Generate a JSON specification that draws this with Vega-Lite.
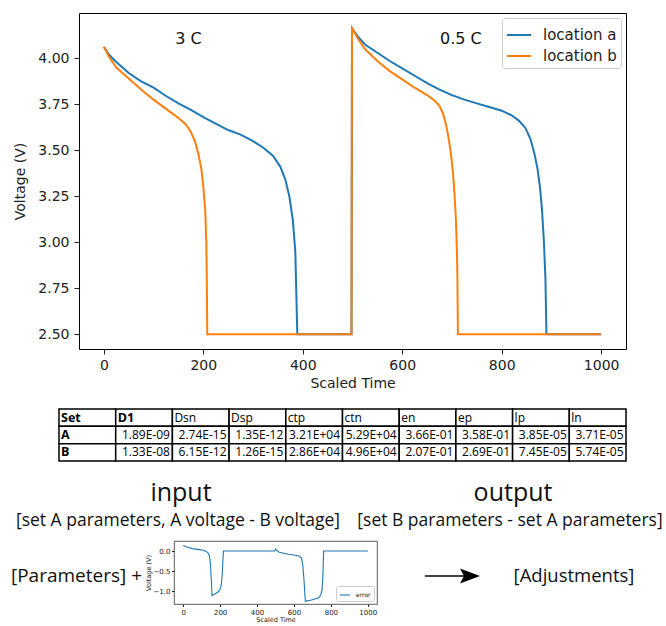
{
  "$schema": "https://vega.github.io/schema/vega-lite/v6.json",
  "background": "white",
  "padding": {"left": 10, "top": 12, "right": 0, "bottom": 0},
  "config": {
    "font": "DejaVu Sans",
    "view": {"stroke": null},
    "axis": {"domain": false, "grid": false, "tickColor": "#222", "labelColor": "#222", "titleColor": "#222", "titleFontWeight": "normal", "labelFlush": false, "labelOverlap": false}
  },
  "resolve": {"scale": {"x": "independent", "y": "independent", "color": "independent"}},
  "spacing": 17,
  "vconcat": [
    {
      "width": 547,
      "height": 336,
      "view": {"stroke": "black", "strokeWidth": 1},
      "layer": [
        {
          "data": {"values": [
            {"loc": "location a", "t": 0, "v": 4.063},
            {"loc": "location a", "t": 10, "v": 4.02},
            {"loc": "location a", "t": 25, "v": 3.98},
            {"loc": "location a", "t": 50, "v": 3.92},
            {"loc": "location a", "t": 75, "v": 3.875},
            {"loc": "location a", "t": 100, "v": 3.84},
            {"loc": "location a", "t": 125, "v": 3.795},
            {"loc": "location a", "t": 150, "v": 3.755},
            {"loc": "location a", "t": 175, "v": 3.72},
            {"loc": "location a", "t": 200, "v": 3.68},
            {"loc": "location a", "t": 225, "v": 3.645},
            {"loc": "location a", "t": 250, "v": 3.61},
            {"loc": "location a", "t": 275, "v": 3.585},
            {"loc": "location a", "t": 300, "v": 3.55},
            {"loc": "location a", "t": 320, "v": 3.515},
            {"loc": "location a", "t": 340, "v": 3.47},
            {"loc": "location a", "t": 355, "v": 3.41},
            {"loc": "location a", "t": 365, "v": 3.34},
            {"loc": "location a", "t": 373, "v": 3.25},
            {"loc": "location a", "t": 380, "v": 3.12},
            {"loc": "location a", "t": 385, "v": 2.95},
            {"loc": "location a", "t": 389, "v": 2.5},
            {"loc": "location a", "t": 498, "v": 2.5},
            {"loc": "location a", "t": 499, "v": 4.163},
            {"loc": "location a", "t": 510, "v": 4.12},
            {"loc": "location a", "t": 525, "v": 4.075},
            {"loc": "location a", "t": 550, "v": 4.03},
            {"loc": "location a", "t": 575, "v": 3.985},
            {"loc": "location a", "t": 600, "v": 3.945},
            {"loc": "location a", "t": 625, "v": 3.905},
            {"loc": "location a", "t": 650, "v": 3.865},
            {"loc": "location a", "t": 675, "v": 3.83},
            {"loc": "location a", "t": 700, "v": 3.8},
            {"loc": "location a", "t": 725, "v": 3.775},
            {"loc": "location a", "t": 750, "v": 3.755},
            {"loc": "location a", "t": 775, "v": 3.735},
            {"loc": "location a", "t": 800, "v": 3.715},
            {"loc": "location a", "t": 820, "v": 3.69},
            {"loc": "location a", "t": 835, "v": 3.66},
            {"loc": "location a", "t": 848, "v": 3.62},
            {"loc": "location a", "t": 858, "v": 3.56},
            {"loc": "location a", "t": 866, "v": 3.48},
            {"loc": "location a", "t": 872, "v": 3.4},
            {"loc": "location a", "t": 877, "v": 3.3},
            {"loc": "location a", "t": 881, "v": 3.18},
            {"loc": "location a", "t": 885, "v": 3.0},
            {"loc": "location a", "t": 888, "v": 2.8},
            {"loc": "location a", "t": 890, "v": 2.5},
            {"loc": "location a", "t": 1000, "v": 2.5},
            {"loc": "location b", "t": 0, "v": 4.063},
            {"loc": "location b", "t": 10, "v": 4.01},
            {"loc": "location b", "t": 25, "v": 3.95},
            {"loc": "location b", "t": 50, "v": 3.89},
            {"loc": "location b", "t": 75, "v": 3.83},
            {"loc": "location b", "t": 100, "v": 3.775},
            {"loc": "location b", "t": 125, "v": 3.725},
            {"loc": "location b", "t": 150, "v": 3.675},
            {"loc": "location b", "t": 165, "v": 3.64},
            {"loc": "location b", "t": 175, "v": 3.6},
            {"loc": "location b", "t": 183, "v": 3.55},
            {"loc": "location b", "t": 190, "v": 3.48},
            {"loc": "location b", "t": 196, "v": 3.4},
            {"loc": "location b", "t": 200, "v": 3.3},
            {"loc": "location b", "t": 204, "v": 3.17},
            {"loc": "location b", "t": 206, "v": 3.0},
            {"loc": "location b", "t": 207, "v": 2.8},
            {"loc": "location b", "t": 208, "v": 2.5},
            {"loc": "location b", "t": 498, "v": 2.5},
            {"loc": "location b", "t": 499, "v": 4.163},
            {"loc": "location b", "t": 510, "v": 4.11},
            {"loc": "location b", "t": 525, "v": 4.05},
            {"loc": "location b", "t": 550, "v": 3.985},
            {"loc": "location b", "t": 575, "v": 3.93},
            {"loc": "location b", "t": 600, "v": 3.885},
            {"loc": "location b", "t": 625, "v": 3.84},
            {"loc": "location b", "t": 650, "v": 3.8},
            {"loc": "location b", "t": 665, "v": 3.77},
            {"loc": "location b", "t": 675, "v": 3.74},
            {"loc": "location b", "t": 682, "v": 3.7},
            {"loc": "location b", "t": 688, "v": 3.64},
            {"loc": "location b", "t": 693, "v": 3.57},
            {"loc": "location b", "t": 698, "v": 3.48},
            {"loc": "location b", "t": 702, "v": 3.38},
            {"loc": "location b", "t": 705, "v": 3.27},
            {"loc": "location b", "t": 708, "v": 3.12},
            {"loc": "location b", "t": 710, "v": 2.95},
            {"loc": "location b", "t": 711, "v": 2.8},
            {"loc": "location b", "t": 712, "v": 2.5},
            {"loc": "location b", "t": 1000, "v": 2.5}
          ]},
          "mark": {"type": "line", "strokeWidth": 2},
          "encoding": {
            "x": {"field": "t", "type": "quantitative",
              "scale": {"domain": [-50, 1050], "nice": false, "zero": false},
              "axis": {"values": [0, 200, 400, 600, 800, 1000], "format": "d", "title": "Scaled Time", "labelFontSize": 14, "titleFontSize": 14, "tickSize": 5, "labelPadding": 4, "titlePadding": 4}},
            "y": {"field": "v", "type": "quantitative",
              "scale": {"domain": [2.42, 4.246], "nice": false, "zero": false},
              "axis": {"values": [2.5, 2.75, 3, 3.25, 3.5, 3.75, 4], "format": ".2f", "title": "Voltage (V)", "labelFontSize": 14, "titleFontSize": 14, "tickSize": 5, "labelPadding": 5, "titlePadding": 10}},
            "color": {"field": "loc", "type": "nominal",
              "scale": {"domain": ["location a", "location b"], "range": ["#1f77b4", "#ff7f0e"]},
              "legend": {"title": null, "orient": "top-right", "offset": 5, "padding": 4, "strokeColor": "#cccccc", "fillColor": "white", "cornerRadius": 3, "symbolType": "stroke", "symbolSize": 576, "symbolStrokeWidth": 2, "labelFontSize": 15, "labelFont": "DejaVu Sans", "labelColor": "#222", "labelOffset": 11, "rowPadding": -3}}
          }
        },
        {
          "data": {"values": [
            {"t": 170, "v": 4.105, "label": "3 C"},
            {"t": 718, "v": 4.105, "label": "0.5 C"}
          ]},
          "mark": {"type": "text", "fontSize": 16, "font": "DejaVu Sans", "color": "#111", "baseline": "middle"},
          "encoding": {
            "x": {"field": "t", "type": "quantitative"},
            "y": {"field": "v", "type": "quantitative"},
            "text": {"field": "label"}
          }
        }
      ]
    },
    {
      "width": 547,
      "height": 52,
      "data": {"values": [
        {"r": "header", "c": "Set", "v": "Set"},
        {"r": "header", "c": "D1", "v": "D1"},
        {"r": "header", "c": "Dsn", "v": "Dsn"},
        {"r": "header", "c": "Dsp", "v": "Dsp"},
        {"r": "header", "c": "ctp", "v": "ctp"},
        {"r": "header", "c": "ctn", "v": "ctn"},
        {"r": "header", "c": "en", "v": "en"},
        {"r": "header", "c": "ep", "v": "ep"},
        {"r": "header", "c": "lp", "v": "lp"},
        {"r": "header", "c": "ln", "v": "ln"},
        {"r": "A", "c": "Set", "v": "A"},
        {"r": "A", "c": "D1", "v": "1.89E-09"},
        {"r": "A", "c": "Dsn", "v": "2.74E-15"},
        {"r": "A", "c": "Dsp", "v": "1.35E-12"},
        {"r": "A", "c": "ctp", "v": "3.21E+04"},
        {"r": "A", "c": "ctn", "v": "5.29E+04"},
        {"r": "A", "c": "en", "v": "3.66E-01"},
        {"r": "A", "c": "ep", "v": "3.58E-01"},
        {"r": "A", "c": "lp", "v": "3.85E-05"},
        {"r": "A", "c": "ln", "v": "3.71E-05"},
        {"r": "B", "c": "Set", "v": "B"},
        {"r": "B", "c": "D1", "v": "1.33E-08"},
        {"r": "B", "c": "Dsn", "v": "6.15E-12"},
        {"r": "B", "c": "Dsp", "v": "1.26E-15"},
        {"r": "B", "c": "ctp", "v": "2.86E+04"},
        {"r": "B", "c": "ctn", "v": "4.96E+04"},
        {"r": "B", "c": "en", "v": "2.07E-01"},
        {"r": "B", "c": "ep", "v": "2.69E-01"},
        {"r": "B", "c": "lp", "v": "7.45E-05"},
        {"r": "B", "c": "ln", "v": "5.74E-05"}
      ]},
      "layer": [
        {
          "mark": {"type": "rect", "fill": "white", "stroke": "black", "strokeWidth": 1.5},
          "encoding": {
            "x": {"field": "c", "type": "nominal", "scale": {"type": "band", "domain": ["Set", "D1", "Dsn", "Dsp", "ctp", "ctn", "en", "ep", "lp", "ln"], "range": [-20, 547], "paddingInner": 0, "paddingOuter": 0}, "axis": null},
            "y": {"field": "r", "type": "nominal", "scale": {"type": "band", "domain": ["header", "A", "B"], "paddingInner": 0, "paddingOuter": 0}, "axis": null}
          }
        },
        {
          "transform": [{"filter": "datum.c == 'Set' || (datum.c == 'D1' && datum.r == 'header')"}],
          "mark": {"type": "text", "align": "left", "baseline": "middle", "dx": 2, "font": "Open Sans", "fontSize": 12.5, "fontWeight": "bold", "color": "black"},
          "encoding": {
            "x": {"field": "c", "type": "nominal", "bandPosition": 0, "scale": {"type": "band"}, "axis": null},
            "y": {"field": "r", "type": "nominal", "scale": {"type": "band"}, "axis": null},
            "text": {"field": "v"}
          }
        },
        {
          "transform": [{"filter": "datum.r == 'header' && datum.c != 'Set' && datum.c != 'D1'"}],
          "mark": {"type": "text", "align": "left", "baseline": "middle", "dx": 2, "font": "Open Sans", "fontSize": 12, "color": "black"},
          "encoding": {
            "x": {"field": "c", "type": "nominal", "bandPosition": 0, "scale": {"type": "band"}, "axis": null},
            "y": {"field": "r", "type": "nominal", "scale": {"type": "band"}, "axis": null},
            "text": {"field": "v"}
          }
        },
        {
          "transform": [{"filter": "datum.r != 'header' && datum.c != 'Set'"}],
          "mark": {"type": "text", "align": "right", "baseline": "middle", "dx": -2.5, "font": "Open Sans", "fontSize": 12, "color": "black"},
          "encoding": {
            "x": {"field": "c", "type": "nominal", "bandPosition": 1, "scale": {"type": "band"}, "axis": null},
            "y": {"field": "r", "type": "nominal", "scale": {"type": "band"}, "axis": null},
            "text": {"field": "v"}
          }
        }
      ]
    },
    {
      "spacing": 5,
      "resolve": {"scale": {"x": "independent", "y": "independent", "color": "independent"}},
      "vconcat": [
        {
          "width": 547,
          "height": 56,
          "data": {"values": [
            {"col": "input", "kind": "title", "text": "input"},
            {"col": "output", "kind": "title", "text": "output"},
            {"col": "input", "kind": "sub", "text": "[set A parameters, A voltage - B voltage]"},
            {"col": "output", "kind": "sub", "text": "[set B parameters - set A parameters]"}
          ]},
          "layer": [
            {
              "transform": [{"filter": "datum.kind == 'title'"}],
              "mark": {"type": "text", "font": "Open Sans", "fontSize": 25, "color": "#111", "baseline": "middle", "dx": 3},
              "encoding": {
                "x": {"field": "col", "type": "nominal", "scale": {"type": "band", "domain": ["input", "output"], "range": [-67, 597]}, "axis": null},
                "y": {"field": "kind", "type": "nominal", "scale": {"type": "band", "domain": ["title", "sub"]}, "axis": null},
                "text": {"field": "text"}
              }
            },
            {
              "transform": [{"filter": "datum.kind == 'sub'"}],
              "mark": {"type": "text", "font": "Open Sans", "fontSize": 17.5, "color": "#111", "baseline": "middle"},
              "encoding": {
                "x": {"field": "col", "type": "nominal", "scale": {"type": "band"}, "axis": null},
                "y": {"field": "kind", "type": "nominal", "scale": {"type": "band"}, "axis": null},
                "text": {"field": "text"}
              }
            }
          ]
        },
        {
          "spacing": 3,
          "resolve": {"scale": {"x": "independent", "y": "independent", "color": "independent"}},
          "hconcat": [
            {
              "width": 63,
              "height": 70,
              "data": {"values": [{"label": "[Parameters] +"}]},
              "mark": {"type": "text", "align": "right", "baseline": "middle", "font": "Open Sans", "fontSize": 19, "color": "#111"},
              "encoding": {
                "x": {"datum": 1, "type": "quantitative", "scale": {"domain": [0, 1]}, "axis": null},
                "text": {"field": "label"}
              }
            },
            {
              "width": 203,
              "height": 63,
              "view": {"stroke": "#333", "strokeWidth": 0.8},
              "data": {"values": [
                {"t": 0, "e": 0.14},
                {"t": 20, "e": 0.1},
                {"t": 50, "e": 0.06},
                {"t": 80, "e": 0.04},
                {"t": 110, "e": 0.02},
                {"t": 125, "e": -0.01},
                {"t": 135, "e": -0.05},
                {"t": 142, "e": -0.12},
                {"t": 148, "e": -0.35},
                {"t": 152, "e": -0.7},
                {"t": 155, "e": -1.0},
                {"t": 156, "e": -1.11},
                {"t": 170, "e": -1.08},
                {"t": 190, "e": -1.02},
                {"t": 200, "e": -0.95},
                {"t": 207, "e": -0.82},
                {"t": 211, "e": -0.6},
                {"t": 215, "e": -0.25},
                {"t": 218, "e": 0.0},
                {"t": 495, "e": 0.0},
                {"t": 500, "e": 0.05},
                {"t": 505, "e": 0.02},
                {"t": 520, "e": -0.03},
                {"t": 570, "e": -0.08},
                {"t": 625, "e": -0.12},
                {"t": 640, "e": -0.17},
                {"t": 648, "e": -0.35},
                {"t": 654, "e": -0.7},
                {"t": 658, "e": -1.0},
                {"t": 662, "e": -1.26},
                {"t": 700, "e": -1.22},
                {"t": 735, "e": -1.17},
                {"t": 745, "e": -1.1},
                {"t": 752, "e": -0.98},
                {"t": 757, "e": -0.6},
                {"t": 761, "e": 0.0},
                {"t": 1000, "e": 0.0}
              ]},
              "mark": {"type": "line", "strokeWidth": 1.1},
              "encoding": {
                "x": {"field": "t", "type": "quantitative",
                  "scale": {"domain": [-50, 1050], "nice": false, "zero": false},
                  "axis": {"values": [0, 200, 400, 600, 800, 1000], "format": "d", "title": "Scaled Time", "labelFontSize": 7, "titleFontSize": 6.5, "tickSize": 2.5, "labelPadding": 1.5, "titlePadding": 1}},
                "y": {"field": "e", "type": "quantitative",
                  "scale": {"domain": [-1.325, 0.25], "nice": false, "zero": false},
                  "axis": {"values": [-1, -0.5, 0], "format": ".1f", "labelExpr": "replace(datum.label, '-', '\u2212')", "title": "Voltage (V)", "labelFontSize": 7, "titleFontSize": 6.5, "tickSize": 2.5, "labelPadding": 1.5, "titlePadding": 1.5}},
                "color": {"datum": "error", "type": "nominal",
                  "scale": {"domain": ["error"], "range": ["#1f77b4"]},
                  "legend": {"title": null, "orient": "bottom-right", "offset": 3, "padding": 3, "strokeColor": "#cccccc", "fillColor": "white", "cornerRadius": 2, "symbolType": "stroke", "symbolSize": 100, "symbolStrokeWidth": 1.1, "labelFontSize": 6, "labelFont": "DejaVu Sans", "labelColor": "#222", "labelOffset": 5}}
              }
            },
            {
              "width": 258,
              "height": 70,
              "data": {"values": [{"label": "[Adjustments]"}]},
              "layer": [
                {
                  "mark": {"type": "rule", "color": "black", "strokeWidth": 1.6},
                  "encoding": {
                    "x": {"datum": 0.17, "type": "quantitative", "scale": {"domain": [0, 1]}, "axis": null},
                    "x2": {"datum": 0.33},
                    "y": {"datum": 0, "type": "quantitative", "scale": {"domain": [-1, 1]}, "axis": null}
                  }
                },
                {
                  "mark": {"type": "point", "shape": "M-1,-0.75L1,0L-1,0.75L-0.6,0Z", "filled": true, "color": "black", "opacity": 1, "size": 400},
                  "encoding": {
                    "x": {"datum": 0.345, "type": "quantitative"},
                    "y": {"datum": 0, "type": "quantitative"}
                  }
                },
                {
                  "mark": {"type": "text", "baseline": "middle", "font": "Open Sans", "fontSize": 18.5, "color": "#111"},
                  "encoding": {
                    "x": {"datum": 0.748, "type": "quantitative"},
                    "y": {"datum": 0, "type": "quantitative"},
                    "text": {"field": "label"}
                  }
                }
              ]
            }
          ]
        }
      ]
    }
  ]
}
